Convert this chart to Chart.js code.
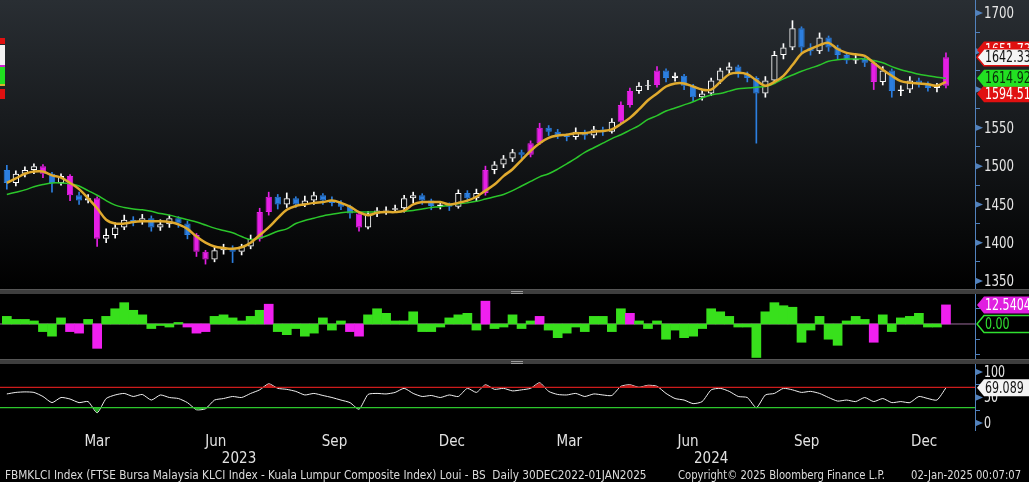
<!DOCTYPE html>
<html>
<head>
<meta charset="utf-8">
<script src="https://cdn.jsdelivr.net/npm/chart.js@4.4.1/dist/chart.umd.min.js"></script>
<style>
  body { margin: 0; width: 1029px; height: 482px; overflow: hidden; background: #000; position: relative;
         font-family: 'Liberation Sans Narrow', 'DejaVu Sans Condensed', 'DejaVu Sans', sans-serif; }
  .panel { position: absolute; left: 0; width: 1029px; }
  #mainWrap { top: 0; height: 290px; background: linear-gradient(#292e33, #000); }
  #oscWrap { top: 294px; height: 65px; }
  #rsiWrap { top: 364px; height: 102px; }
  .sep { position: absolute; left: 0; width: 1029px; height: 4px; background: #3e3e3e; border-top: 1px solid #555; }
  .grip { position: absolute; left: 511px; width: 12px; height: 1px; background: #9a9a9a; }
  .stub { position: absolute; left: 0; width: 5px; }
  #footer { position: absolute; top: 466px; left: 0; width: 1029px; height: 16px; color: #dcdcdc; font-size: 13px; white-space: nowrap; }
  #footer span { position: absolute; top: 1px; transform: scaleX(0.86); transform-origin: 0 50%; }
  #footer span.wide { transform: scaleX(0.9); }
</style>
</head>
<body>
<div class="panel" id="mainWrap"><canvas id="mainChart"></canvas></div>
<div class="sep" style="top:289px"><div class="grip" style="top:1px"></div><div class="grip" style="top:3px"></div></div>
<div class="panel" id="oscWrap"><canvas id="oscChart"></canvas></div>
<div class="sep" style="top:359px"><div class="grip" style="top:1px"></div><div class="grip" style="top:3px"></div></div>
<div class="panel" id="rsiWrap"><canvas id="rsiChart"></canvas></div>

<div class="stub" style="top:38px;height:6px;background:#e01010"></div>
<div class="stub" style="top:45px;height:20px;background:#f2f2f2"></div>
<div class="stub" style="top:65px;height:2px;background:#d020d0"></div>
<div class="stub" style="top:67px;height:17px;background:#20e020"></div>
<div class="stub" style="top:84px;height:2px;background:#d8b030"></div>
<div class="stub" style="top:89px;height:10px;background:#e01010"></div>

<div id="footer">
  <span class="wide" style="left:5px">FBMKLCI Index (FTSE Bursa Malaysia KLCI Index - Kuala Lumpur Composite Index) Loui - BS&nbsp; Daily 30DEC2022-01JAN2025</span>
  <span style="left:678px">Copyright© 2025 Bloomberg Finance L.P.</span>
  <span style="left:911px">02-Jan-2025 00:07:07</span>
</div>

<script>
const FONT = "'Liberation Sans Narrow', 'DejaVu Sans Condensed', 'DejaVu Sans', sans-serif";
const SQUEEZE = 0.82; // narrow look for canvas labels

// weekly bars, first week starting 2 Jan 2023
const startDate = '2022-12-30';
const firstWeek = '2023-01-02';

const opens = [1495,1478,1490,1495,1500,1490,1478,1487,1462,1455,
  1458,1405,1410,1420,1430,1428,1432,1420,1424,1432,
  1425,1410,1388,1378,1390,1393,1388,1395,1405,1440,
  1460,1450,1458,1450,1455,1462,1455,1452,1447,1438,
  1420,1438,1442,1443,1445,1458,1462,1455,1448,1450,
  1447,1465,1458,1465,1495,1502,1510,1518,1515,1530,
  1550,1545,1540,1538,1545,1540,1548,1545,1558,1580,
  1598,1605,1606,1625,1615,1618,1605,1590,1595,1612,
  1625,1630,1620,1615,1595,1612,1645,1655,1680,1655,
  1650,1668,1655,1645,1638,1640,1635,1610,1625,1598,
  1600,1612,1608,1602,1605];
const highs = [1501,1494,1499,1503,1502,1492,1490,1489,1466,1463,
  1460,1418,1426,1436,1434,1437,1435,1430,1436,1434,
  1428,1412,1390,1395,1398,1396,1398,1410,1445,1466,
  1463,1465,1460,1461,1466,1464,1460,1455,1449,1440,
  1441,1446,1447,1449,1462,1466,1464,1457,1454,1452,
  1469,1468,1470,1500,1506,1514,1522,1521,1533,1556,
  1553,1548,1542,1550,1547,1552,1551,1562,1584,1602,
  1609,1612,1630,1627,1622,1620,1607,1600,1615,1628,
  1635,1632,1623,1617,1617,1650,1660,1690,1682,1660,
  1674,1670,1658,1648,1645,1642,1637,1630,1627,1605,
  1617,1615,1610,1608,1648];
const lows = [1470,1474,1486,1490,1485,1466,1475,1455,1450,1452,
  1395,1400,1406,1417,1422,1424,1415,1416,1420,1420,
  1405,1382,1372,1375,1385,1374,1384,1392,1402,1436,
  1444,1446,1446,1447,1450,1450,1448,1443,1432,1415,
  1418,1434,1437,1440,1440,1452,1450,1443,1444,1442,
  1445,1453,1454,1462,1490,1498,1506,1510,1512,1528,
  1540,1536,1533,1535,1535,1537,1540,1543,1556,1577,
  1595,1600,1603,1610,1611,1600,1585,1586,1592,1608,
  1620,1616,1610,1530,1590,1608,1640,1652,1648,1645,
  1647,1650,1640,1634,1634,1630,1600,1606,1590,1592,
  1596,1603,1598,1597,1602];
const closes = [1478,1490,1495,1500,1490,1478,1487,1462,1455,1458,
  1405,1410,1420,1430,1428,1432,1420,1424,1432,1425,
  1410,1388,1378,1390,1393,1388,1395,1405,1440,1460,
  1450,1458,1450,1455,1462,1455,1452,1447,1438,1420,
  1438,1442,1443,1445,1458,1462,1455,1448,1450,1447,
  1465,1458,1465,1495,1502,1510,1518,1515,1530,1550,
  1545,1540,1538,1545,1540,1548,1545,1558,1580,1598,
  1605,1606,1625,1615,1618,1605,1590,1595,1612,1625,
  1630,1620,1615,1595,1612,1645,1655,1680,1655,1650,
  1668,1655,1645,1638,1640,1635,1610,1625,1598,1600,
  1612,1608,1602,1605,1642.33];
const fastMA = [1478,1484,1490,1493,1493,1488,1485,1478,1470,1458,
  1445,1430,1425,1425,1427,1428,1428,1428,1427,1424,
  1418,1408,1400,1395,1393,1392,1394,1400,1410,1420,
  1432,1443,1448,1450,1452,1453,1455,1452,1447,1440,
  1436,1439,1440,1440,1442,1450,1453,1453,1453,1450,
  1452,1455,1460,1468,1476,1487,1496,1508,1520,1530,
  1537,1540,1541,1543,1543,1545,1546,1548,1555,1563,
  1574,1586,1595,1604,1608,1608,1604,1600,1600,1610,
  1620,1622,1620,1612,1605,1610,1618,1632,1647,1653,
  1658,1661,1653,1648,1646,1644,1635,1626,1618,1611,
  1609,1608,1607,1605,1610];
const slowMA = [1463,1466,1469,1473,1476,1478,1478,1477,1474,1468,
  1462,1455,1449,1446,1444,1443,1441,1438,1436,1433,
  1430,1427,1423,1419,1416,1413,1408,1404,1406,1410,
  1415,1418,1425,1429,1432,1435,1437,1439,1440,1440,
  1440,1440,1440,1440,1441,1442,1444,1446,1447,1449,
  1451,1452,1454,1457,1460,1463,1468,1474,1480,1486,
  1490,1496,1503,1510,1518,1524,1530,1536,1541,1547,
  1553,1561,1566,1572,1576,1580,1584,1589,1593,1595,
  1598,1601,1602,1603,1604,1608,1614,1619,1624,1628,
  1632,1637,1639,1640,1640,1640,1638,1635,1630,1626,
  1623,1620,1618,1616,1614.92];
const magentaWeeks = [4, 7, 10, 21, 22, 28, 29, 39, 53, 58, 59, 68, 69, 72, 96, 104];

const oscValues = [5,3,3,2,-5,-8,4,-5,-6,3,
  -16,5,10,14,9,6,-3,-1,-2,1,
  -2,-6,-5,5,6,4,2,5,9,13,
  -5,-7,-3,-8,-6,4,-4,2,-5,-8,
  6,10,7,2,2,8,-5,-5,-2,4,
  6,7,-4,15,-3,-2,6,-3,2,5,
  -4,-9,-6,-2,-5,5,5,-5,10,7,
  2,-3,2,-10,-4,-9,-8,-3,10,8,
  5,-2,-2,-22,8,14,12,11,-12,-4,
  5,-10,-14,2,5,3,-12,6,-5,4,
  5,7,-2,-2,12.5404];
const oscMagenta = [7, 8, 10, 20, 21, 22, 29, 38, 39, 53, 59, 69, 96, 104];

const rsiValues = [57,60,61,60,52,40,50,47,40,42,
  20,48,55,58,52,56,45,55,50,48,
  40,26,28,45,48,52,50,58,65,77,
  68,66,62,55,58,54,50,45,40,27,
  56,58,57,60,68,58,52,54,50,55,
  52,68,60,75,66,68,63,65,68,79,
  62,56,55,58,52,57,55,54,72,75,
  70,74,72,58,48,45,38,42,65,68,
  62,52,50,30,55,58,68,65,60,62,
  58,50,43,45,42,50,42,48,40,42,
  40,52,48,45,69.089];
const rsiUpper = 70;
const rsiLower = 30;

const monthLabels = ['Mar', 'Jun', 'Sep', 'Dec', 'Mar', 'Jun', 'Sep', 'Dec'];
const monthDates = ['2023-03-13', '2023-06-13', '2023-09-13', '2023-12-13', '2024-03-13', '2024-06-13', '2024-09-13', '2024-12-13'];
const yearLabels = ['2023', '2024'];
const yearDates = ['2023-07-01', '2024-07-01'];

const priceTicks = [1350, 1375, 1400, 1425, 1450, 1475, 1500, 1525, 1550, 1575, 1600, 1625, 1650, 1675, 1700];
const rsiTicks = [0, 25, 50, 75, 100];

const bandUpperLast = 1651.73;
const bandLowerLast = 1594.51;

function dayOf(d) {
    return (Date.parse(d) - Date.parse(startDate)) / 86400000;
}

const days = closes.map((c, i) => dayOf(firstWeek) + 7 * i);
const X_MIN = -2.3, X_MAX = 753.5;

Chart.defaults.font.family = FONT;
Chart.defaults.color = '#e2e2e2';
Chart.defaults.animation = false;
Chart.defaults.plugins.legend.display = false;
Chart.defaults.plugins.tooltip.enabled = false;

const AXIS_BLUE = '#5282bd';

const hiddenX = { type: 'linear', min: X_MIN, max: X_MAX, offset: false, grid: { offset: false }, display: false };

function rightAxis(min, max, ticks, isMajor) {
    return {
        position: 'right',
        min: min,
        max: max,
        afterFit: s => { s.width = 54; },
        afterBuildTicks: s => { s.ticks = ticks.map(v => ({ value: v })); },
        border: { display: true, color: AXIS_BLUE, width: 1 },
        grid: {
            drawOnChartArea: false,
            drawTicks: true,
            tickLength: 5,
            tickColor: c => (c.tick && isMajor(c.tick.value)) ? 'rgba(0,0,0,0)' : AXIS_BLUE
        },
        ticks: { display: false }
    };
}

// narrow text, drawn with a horizontal squeeze
function narrowText(ctx, text, x, y, size, color) {
    ctx.save();
    ctx.font = size + 'px ' + FONT;
    ctx.fillStyle = color;
    ctx.textBaseline = 'middle';
    ctx.translate(x, y);
    ctx.scale(SQUEEZE, 1);
    ctx.fillText(text, 0, 0);
    ctx.restore();
}

function drawAxisLabels(chart, values, size) {
    const x = chart.chartArea.right + 9;
    values.forEach(v => {
        narrowText(chart.ctx, String(v), x, chart.scales.y.getPixelForValue(v) + 1, size, '#e6e6e6');
    });
}

function drawTag(chart, value, text, fill, textColor, stroke) {
    const ctx = chart.ctx;
    const y = chart.scales.y.getPixelForValue(value);
    const x = chart.chartArea.right + 2;
    const h = 17;
    ctx.save();
    ctx.beginPath();
    ctx.moveTo(x, y);
    ctx.lineTo(x + 7, y - h / 2);
    ctx.lineTo(chart.width + 5, y - h / 2);
    ctx.lineTo(chart.width + 5, y + h / 2);
    ctx.lineTo(x + 7, y + h / 2);
    ctx.closePath();
    ctx.fillStyle = fill;
    ctx.fill();
    if (stroke) {
        ctx.strokeStyle = stroke;
        ctx.lineWidth = 1.5;
        ctx.stroke();
    }
    ctx.restore();
    narrowText(ctx, text, x + 8, y + 1, 15, textColor);
}

function drawArrows(chart, values) {
    const ctx = chart.ctx;
    const x = chart.chartArea.right;
    ctx.save();
    ctx.fillStyle = AXIS_BLUE;
    values.forEach(v => {
        const y = chart.scales.y.getPixelForValue(v);
        ctx.beginPath();
        ctx.moveTo(x, y - 3.5);
        ctx.lineTo(x + 8, y);
        ctx.lineTo(x, y + 3.5);
        ctx.closePath();
        ctx.fill();
    });
    ctx.restore();
}

// ---- main price chart ----
function candleColor(i) {
    if (magentaWeeks.includes(i)) return '#e51fe5';
    return closes[i] >= opens[i] ? '#ffffff' : '#2c7fe0';
}

const priceMajors = priceTicks.filter(v => v % 50 === 0);

new Chart(document.getElementById('mainChart'), {
    data: {
        datasets: [
            {
                type: 'bar', order: 10, grouped: false, barThickness: 1,
                data: days.map((d, i) => ({ x: d, y: [lows[i], Math.min(opens[i], closes[i])] })),
                backgroundColor: c => candleColor(c.dataIndex)
            },
            {
                type: 'bar', order: 10, grouped: false, barThickness: 1,
                data: days.map((d, i) => ({ x: d, y: [Math.max(opens[i], closes[i]), highs[i]] })),
                backgroundColor: c => candleColor(c.dataIndex)
            },
            {
                type: 'bar', order: 9, grouped: false,
                barPercentage: 0.7, categoryPercentage: 1,
                data: days.map((d, i) => ({ x: d, y: [opens[i], closes[i]] })),
                borderWidth: 1, borderSkipped: false,
                borderColor: c => candleColor(c.dataIndex),
                backgroundColor: c => {
                    const i = c.dataIndex;
                    if (!magentaWeeks.includes(i) && closes[i] >= opens[i]) return 'rgba(0,0,0,0)';
                    return candleColor(i);
                }
            },
            {
                type: 'line', order: 2,
                data: days.map((d, i) => ({ x: d, y: slowMA[i] })),
                borderColor: '#2bc62b', borderWidth: 1.5, pointRadius: 0, tension: 0.35
            },
            {
                type: 'line', order: 1,
                data: days.map((d, i) => ({ x: d, y: fastMA[i] })),
                borderColor: '#e0aa2e', borderWidth: 2.5, pointRadius: 0, tension: 0.35
            }
        ]
    },
    options: {
        responsive: true,
        maintainAspectRatio: false,
        layout: { padding: 0 },
        scales: {
            x: hiddenX,
            y: rightAxis(1338.2, 1717, priceTicks, v => v % 50 === 0)
        }
    },
    plugins: [{
        id: 'mainTags',
        afterDraw: chart => {
            drawArrows(chart, priceMajors);
            drawAxisLabels(chart, priceMajors, 16);
            drawTag(chart, bandUpperLast, bandUpperLast.toFixed(2), '#e01010', '#ffffff');
            drawTag(chart, bandLowerLast, bandLowerLast.toFixed(2), '#e01010', '#ffffff');
            drawTag(chart, closes[closes.length - 1], closes[closes.length - 1].toFixed(2), '#f4f4f4', '#111111', '#e01010');
            drawTag(chart, slowMA[slowMA.length - 1], slowMA[slowMA.length - 1].toFixed(2), '#22e022', '#0a2a0a');
        }
    }]
});

// ---- oscillator histogram ----
new Chart(document.getElementById('oscChart'), {
    type: 'bar',
    data: {
        datasets: [{
            data: days.map((d, i) => ({ x: d, y: oscValues[i] })),
            backgroundColor: c => oscMagenta.includes(c.dataIndex) ? '#f020f0' : '#38e01c',
            barPercentage: 1, categoryPercentage: 1, borderWidth: 0
        }]
    },
    options: {
        responsive: true,
        maintainAspectRatio: false,
        layout: { padding: 0 },
        scales: {
            x: hiddenX,
            y: rightAxis(-23, 19.7, [-20, -10, 10], v => false)
        }
    },
    plugins: [{
        id: 'oscTags',
        beforeDatasetsDraw: chart => {
            const ctx = chart.ctx;
            const y = chart.scales.y.getPixelForValue(0);
            ctx.save();
            ctx.strokeStyle = '#9a6a9a';
            ctx.lineWidth = 1;
            ctx.beginPath();
            ctx.moveTo(chart.chartArea.left, y);
            ctx.lineTo(chart.chartArea.right, y);
            ctx.stroke();
            ctx.restore();
        },
        afterDraw: chart => {
            drawTag(chart, oscValues[oscValues.length - 1], oscValues[oscValues.length - 1].toFixed(4), '#e020e0', '#ffffff');
            drawTag(chart, 0, '0.00', '#000000', '#30e030', '#30e030');
        }
    }]
});

// ---- RSI ----
const rsiPoints = days.map((d, i) => ({ x: d, y: rsiValues[i] }));
new Chart(document.getElementById('rsiChart'), {
    type: 'line',
    data: {
        datasets: [
            {
                data: rsiPoints, borderWidth: 0, pointRadius: 0,
                fill: { target: { value: rsiUpper }, above: 'rgba(215,30,30,0.85)', below: 'rgba(0,0,0,0)' }
            },
            {
                data: rsiPoints, borderWidth: 0, pointRadius: 0,
                fill: { target: { value: rsiLower }, above: 'rgba(0,0,0,0)', below: 'rgba(40,200,40,0.85)' }
            },
            {
                data: [{ x: X_MIN, y: rsiUpper }, { x: X_MAX, y: rsiUpper }],
                borderColor: '#cc1c1c', borderWidth: 1.3, pointRadius: 0
            },
            {
                data: [{ x: X_MIN, y: rsiLower }, { x: X_MAX, y: rsiLower }],
                borderColor: '#2ec82e', borderWidth: 1.3, pointRadius: 0
            },
            {
                data: rsiPoints, borderColor: '#f0f0f0', borderWidth: 1, pointRadius: 0, tension: 0.2
            }
        ]
    },
    options: {
        responsive: true,
        maintainAspectRatio: false,
        layout: { padding: 0 },
        scales: {
            x: {
                type: 'linear', position: 'bottom', min: X_MIN, max: X_MAX, offset: false,
                afterFit: s => { s.height = 20; },
                afterBuildTicks: s => { s.ticks = monthDates.map(d => ({ value: dayOf(d) })); },
                grid: { display: false, drawTicks: false },
                border: { display: false },
                ticks: { padding: 3, autoSkip: false, maxRotation: 0, color: '#e2e2e2', font: { size: 15 },
                         callback: (v, i) => monthLabels[i] }
            },
            x2: {
                type: 'linear', position: 'bottom', min: X_MIN, max: X_MAX, offset: false,
                afterFit: s => { s.height = 16; },
                afterBuildTicks: s => { s.ticks = yearDates.map(d => ({ value: dayOf(d) })); },
                grid: { display: false, drawTicks: false },
                border: { display: false },
                ticks: { padding: 0, autoSkip: false, maxRotation: 0, color: '#e2e2e2', font: { size: 15 },
                         callback: (v, i) => yearLabels[i] }
            },
            y: rightAxis(-13.7, 115.7, rsiTicks, v => v % 50 === 0)
        }
    },
    plugins: [{
        id: 'rsiTags',
        afterDraw: chart => {
            drawArrows(chart, [0, 50, 100]);
            drawAxisLabels(chart, [0, 50, 100], 15);
            drawTag(chart, rsiValues[rsiValues.length - 1], rsiValues[rsiValues.length - 1].toFixed(3), '#f4f4f4', '#111111');
        }
    }]
});
</script>
</body>
</html>
